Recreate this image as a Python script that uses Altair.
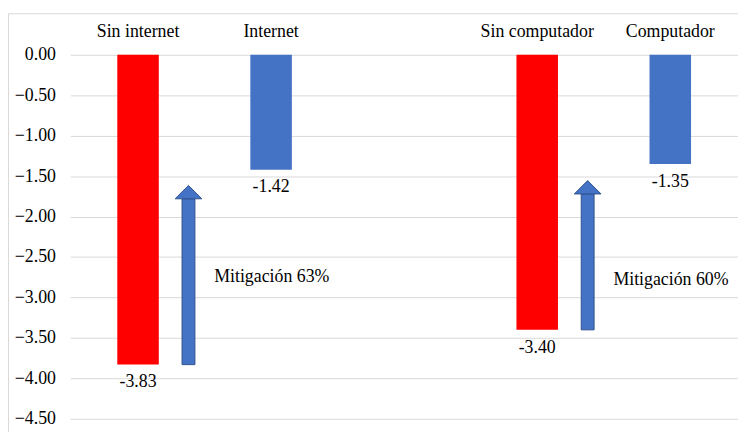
import altair as alt
import pandas as pd

# ---- data ----
categories = ["Sin internet", "Internet", "Sin computador", "Computador"]
values = [-3.83, -1.42, -3.40, -1.35]
value_labels = ["-3.83", "-1.42", "-3.40", "-1.35"]
bar_colors = ["#FF0000", "#4472C4", "#FF0000", "#4472C4"]

x_domain = ["Sin internet", "Internet", " ", "Sin computador", "Computador"]

arrow_from = ["Sin internet", "Sin computador"]
arrow_start = [-3.83, -3.40]
arrow_head_base = [-1.78, -1.72]
mitig_text = ["Mitigación 63%", "Mitigación 60%"]
mitig_y = [-2.75, -2.78]

y_ticks = [0.0, -0.5, -1.0, -1.5, -2.0, -2.5, -3.0, -3.5, -4.0, -4.5]

FONT = "Liberation Serif"
FS = 18

bars_df = pd.DataFrame({"cat": categories, "v": values, "lab": value_labels, "col": bar_colors})
arrows_df = pd.DataFrame({"cat": arrow_from, "start": arrow_start, "top": arrow_head_base,
                          "txt": mitig_text, "ty": mitig_y})

xscale = alt.Scale(domain=x_domain, paddingInner=0.688, paddingOuter=0.353)
yscale = alt.Scale(domain=[-4.5, 0], nice=False, zero=False)

x_axis = alt.Axis(orient="top", title=None, labelAngle=0, ticks=False, tickSize=0, domain=False,
                  labelPadding=19, labelBaseline="alphabetic", grid=False)
y_axis = alt.Axis(values=y_ticks, format=".2f", title=None, ticks=False, tickSize=0, domain=False,
                  labelPadding=15, grid=True)

X = alt.X("cat:N", scale=xscale, axis=x_axis, title=None)

bars = alt.Chart(bars_df).mark_bar().encode(
    x=X,
    y=alt.Y("v:Q", scale=yscale, axis=y_axis, title=None),
    y2=alt.datum(0),
    color=alt.Color("col:N", scale=None),
)

border = alt.Chart(pd.DataFrame({"a": [0]})).mark_rect(
    fillOpacity=0, stroke="#d9d9d9", strokeWidth=1
).encode(x=alt.value(-62.5), x2=alt.value(900), y=alt.value(-41.5), y2=alt.value(600))

labels = alt.Chart(bars_df).mark_text(
    dy=18, baseline="middle", align="center", font=FONT, fontSize=FS, color="#000000"
).encode(
    x=X,
    y=alt.Y("v:Q", scale=yscale, axis=y_axis, title=None),
    text="lab:N",
)

shaft = alt.Chart(arrows_df).mark_bar(
    size=13, xOffset=51, fill="#4472C4", stroke="#2F528F", strokeWidth=1
).encode(
    x=X,
    y=alt.Y("start:Q", scale=yscale, axis=y_axis, title=None),
    y2="top:Q",
)

head = alt.Chart(arrows_df).mark_point(
    shape="M -1 0 L 0 -1 L 1 0 Z", size=729, filled=True, opacity=1,
    fill="#4472C4", stroke="#2F528F", strokeWidth=1, xOffset=51
).encode(
    x=X,
    y=alt.Y("top:Q", scale=yscale, axis=y_axis, title=None),
)

mitig = alt.Chart(arrows_df).mark_text(
    align="left", baseline="middle", dx=77, font=FONT, fontSize=FS, color="#000000"
).encode(
    x=X,
    y=alt.Y("ty:Q", scale=yscale, axis=y_axis, title=None),
    text="txt:N",
)

chart = alt.layer(border, bars, labels, shaft, head, mitig).properties(
    width=675, height=368,
    autosize=alt.AutoSizeParams(type="none"),
    padding={"left": 63, "top": 45, "right": 0, "bottom": 11},
    background="white",
).configure_view(
    strokeOpacity=0
).configure_axis(
    labelFont=FONT, labelFontSize=FS, labelColor="#000000",
    gridColor="#d9d9d9", gridWidth=1
).configure_text(font=FONT)

chart.save("out.html", embed_options={"renderer": "svg", "actions": False})
